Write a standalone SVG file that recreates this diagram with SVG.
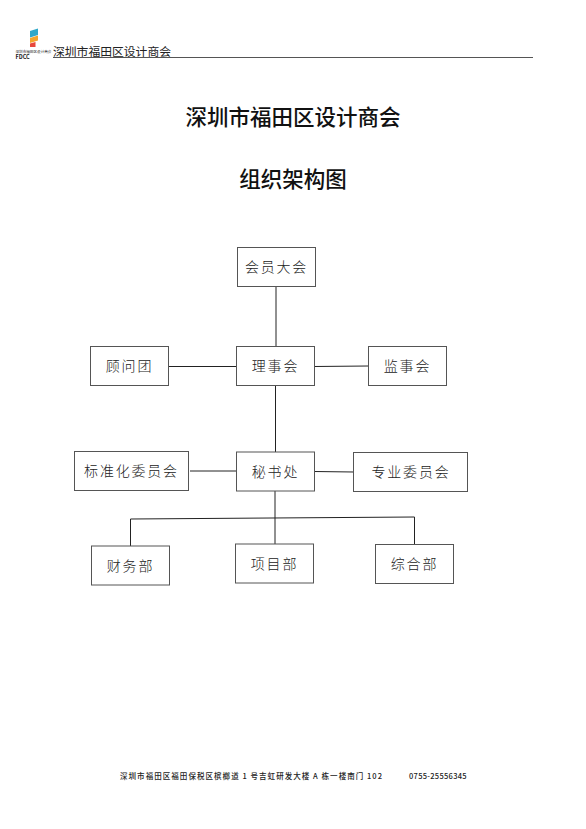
<svg xmlns="http://www.w3.org/2000/svg" width="586" height="829" viewBox="0 0 586 829">
<style>
.b{fill:#fff;stroke:#555;stroke-width:1}
.c{fill:none;stroke:#222;stroke-width:1}
text{font-family:"Noto Sans CJK SC","Liberation Sans",sans-serif;fill:#222}
.n{font-size:14px;letter-spacing:1.8px;text-anchor:middle;font-weight:300}
.t{font-size:21.500px;font-weight:500;text-anchor:middle;fill:#111}
.f{font-size:7.500px;font-weight:500}
</style>
<rect width="586" height="829" fill="#fff"/>
<g id="header">
<path d="M30 31L38 28.500V35L30 37.500Z" fill="#2fa8c9"/>
<path d="M30 38L38 35.500V40.500L30 43Z" fill="#f4a52c"/>
<path d="M30 43.500L35.500 42V47L30 47Z" fill="#e8483c"/>
<text x="15.500" y="52.500" font-size="3.600" fill="#555">深圳市福田区设计商会</text>
<text x="15.500" y="58.500" font-size="5.500" font-weight="700" fill="#333">FDCC</text>
<text x="53" y="56" font-size="11.800" fill="#333">深圳市福田区设计商会</text>
<line x1="53" y1="57.500" x2="533" y2="57.500" stroke="#555" stroke-width="1"/>
</g>
<g id="title">
<text class="t" x="293" y="125">深圳市福田区设计商会</text>
<text class="t" x="293" y="187">组织架构图</text>
</g>
<g id="connectors">
<path class="c" d="M276 286V347M169 366.500H237M314 366.500L368 366M275.500 386V452M190 471H237M314 471.500L354 472M275 491V544M130.500 546V519L414.500 517V545"/>
</g>
<g id="n1"><rect class="b" x="237.500" y="247.500" width="78" height="39"/><text class="n" x="276.500" y="272">会员大会</text></g>
<g id="n2"><rect class="b" x="90.500" y="346.500" width="78" height="39"/><text class="n" x="129.500" y="371">顾问团</text></g>
<g id="n3"><rect class="b" x="236.500" y="346.500" width="78" height="39"/><text class="n" x="275.500" y="371">理事会</text></g>
<g id="n4"><rect class="b" x="368.500" y="346.500" width="78" height="39"/><text class="n" x="407.500" y="371">监事会</text></g>
<g id="n5"><rect class="b" x="74.500" y="451.500" width="114" height="39"/><text class="n" x="131.500" y="476">标准化委员会</text></g>
<g id="n6"><rect class="b" x="236.500" y="452" width="78" height="39"/><text class="n" x="275.500" y="477">秘书处</text></g>
<g id="n7"><rect class="b" x="353.500" y="452.500" width="114" height="39"/><text class="n" x="411" y="477">专业委员会</text></g>
<g id="n8"><rect class="b" x="91.500" y="546" width="78" height="39"/><text class="n" x="130.500" y="571">财务部</text></g>
<g id="n9"><rect class="b" x="235.500" y="544" width="78" height="39"/><text class="n" x="274.500" y="569">项目部</text></g>
<g id="n10"><rect class="b" x="375.500" y="544.500" width="78" height="39"/><text class="n" x="414.500" y="569">综合部</text></g>
<g id="footer">
<text class="f" x="120" y="779" letter-spacing="1.050">深圳市福田区福田保税区槟榔道 1 号吉虹研发大楼 A 栋一楼南门 102</text>
<text class="f" x="409" y="779" letter-spacing="0.300">0755-25556345</text>
</g>
</svg>
